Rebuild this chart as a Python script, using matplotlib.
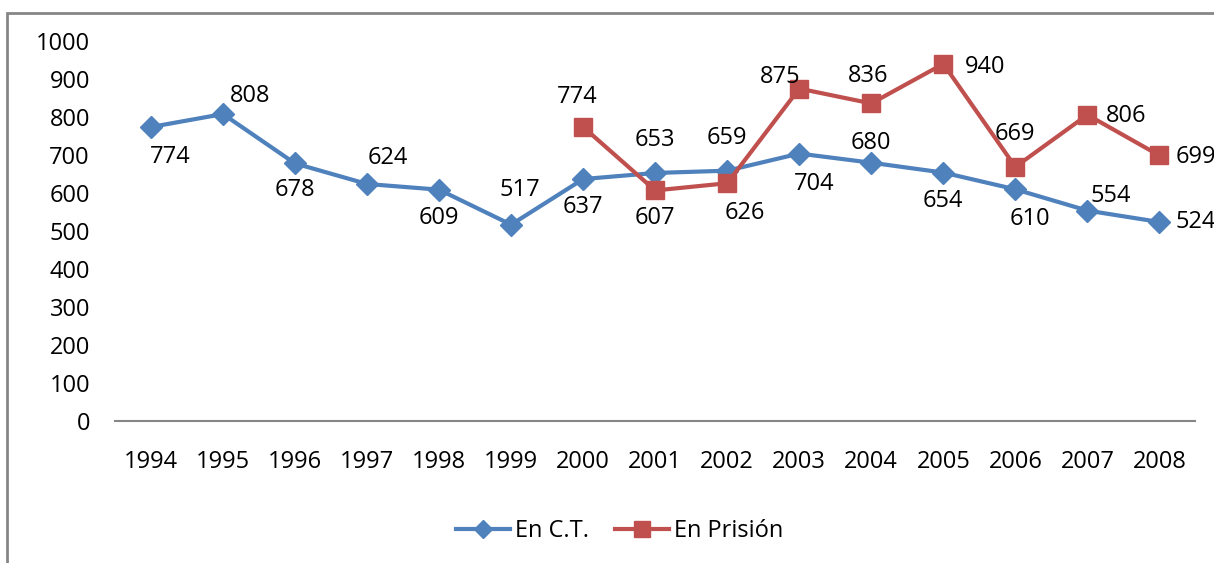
import matplotlib
matplotlib.use("Agg")
from matplotlib import pyplot as plt
from matplotlib.patches import Rectangle

# data
years = ['1994', '1995', '1996', '1997', '1998', '1999', '2000', '2001',
         '2002', '2003', '2004', '2005', '2006', '2007', '2008']
en_ct = [774, 808, 678, 624, 609, 517, 637, 653, 659, 704, 680, 654, 610, 554, 524]
# En Prisión only from 2000 on
prision_years = years[6:]
en_prision = [774, 607, 626, 875, 836, 940, 669, 806, 699]

# label offsets in pixels (dx, dy), hand placed like the original
ct_offsets = [(19, -30), (27, 18), (0, -27), (21, 26), (0, -28), (9, 35), (0, -28),
              (0, 33), (0, 33), (15, -30), (0, 20), (0, -28), (15, -30), (23, 15), (36, 0)]
pr_offsets = [(-6, 30), (0, -28), (18, -30), (-19, 12), (-3, 27), (42, -3),
              (0, 33), (39, -1), (36, -2)]

blue = '#4F81BD'
red = '#C0504D'

plt.rcParams['font.family'] = ['Open Sans', 'DejaVu Sans']
fs = 17

fig = plt.figure(figsize=(12.14, 5.63), dpi=100)
ax = fig.add_axes([0.0947, 0.252, 0.89, 0.675])

x_ct = list(range(len(years)))
x_pr = [years.index(y) for y in prision_years]

ax.plot(x_ct, en_ct, color=blue, lw=3, marker='D', ms=11, label='En C.T.')
ax.plot(x_pr, en_prision, color=red, lw=3, marker='s', ms=13, label='En Prisión')

for xi, v, off in zip(x_ct, en_ct, ct_offsets):
    ax.annotate(str(v), (xi, v), xytext=off, textcoords='offset pixels',
                ha='center', va='center', fontsize=fs, annotation_clip=False)
for xi, v, off in zip(x_pr, en_prision, pr_offsets):
    ax.annotate(str(v), (xi, v), xytext=off, textcoords='offset pixels',
                ha='center', va='center', fontsize=fs, annotation_clip=False)

ax.set_xlim(-0.5, len(years) - 0.5)
ax.set_ylim(0, 1000)
ax.set_yticks(range(0, 1001, 100))
ax.set_xticks(x_ct)
ax.set_xticklabels(years)
ax.tick_params(axis='both', length=0, labelsize=fs)
ax.tick_params(axis='y', pad=18)
ax.tick_params(axis='x', pad=21)
for s in ['top', 'right', 'left']:
    ax.spines[s].set_visible(False)
ax.spines['bottom'].set_color('#868686')
ax.spines['bottom'].set_linewidth(1.5)

fig.legend(loc='center', bbox_to_anchor=(0.51, 0.057), ncol=2, frameon=False,
           fontsize=fs, handlelength=2.3, columnspacing=1.1, handletextpad=0.2,
           markerscale=0.85)

# outer chart border (cropped on the right and bottom in the original)
fig.add_artist(Rectangle((7 / 1214, -0.1), 1.2, 1.1 - 13 / 563,
                         transform=fig.transFigure, fill=False,
                         edgecolor='#868686', lw=2, clip_on=False))

fig.savefig('out.png', dpi=100)
